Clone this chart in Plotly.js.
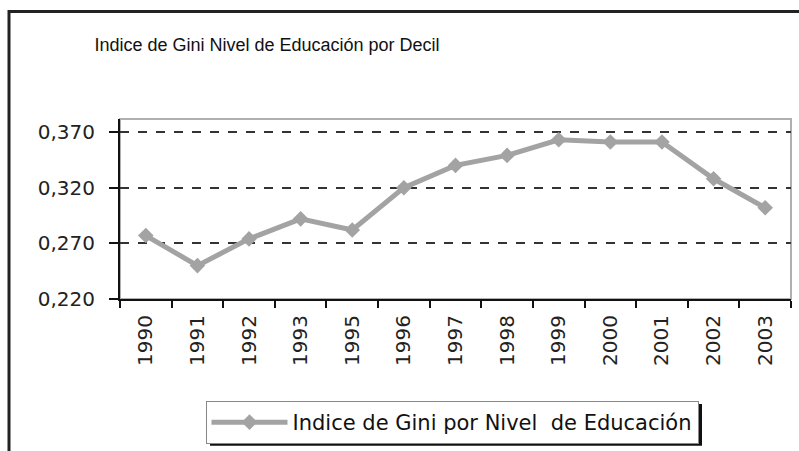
<!DOCTYPE html>
<html>
<head>
<meta charset="utf-8">
<script src="https://cdn.plot.ly/plotly-3.0.1.min.js"></script>
<style>html,body{margin:0;padding:0;background:#fff;}#chart{width:799px;height:451px;}</style>
</head>
<body>
<div id="chart"></div>
<script>
const years = ["1990","1991","1992","1993","1995","1996","1997","1998","1999","2000","2001","2002","2003"];
const gini = [0.277,0.250,0.274,0.292,0.282,0.320,0.340,0.349,0.363,0.361,0.361,0.328,0.302];
const yTicks = [0.22,0.27,0.32,0.37];
const seriesName = "Indice de Gini por Nivel  de Educación";
const chartTitle = "Indice de Gini Nivel de Educación por Decil";

const L = 120, R = 8, T = 119, B = 151, W = 799, H = 451;
const pw = W - L - R, ph = H - T - B;
const px = v => (v - L) / pw;
const py = v => (H - B - v) / ph;

const trace = {
  x: years, y: gini, type: "scatter", mode: "lines+markers", name: seriesName,
  line: {color: "#a3a3a3", width: 5},
  marker: {symbol: "diamond", size: 12, color: "#a3a3a3"}
};

const layout = {
  width: W, height: H,
  margin: {l: L, r: R, t: T, b: B},
  paper_bgcolor: "#fff", plot_bgcolor: "#fff",
  separators: ",.",
  font: {family: "DejaVu Sans, sans-serif", color: "#222", size: 16},
  title: {text: chartTitle, font: {family: "Liberation Sans, Arial, sans-serif", size: 18, color: "#111"},
          x: 267 / W, xanchor: "center", y: 1 - 45 / H, yanchor: "middle"},
  showlegend: true,
  legend: {x: px(452), xanchor: "center", y: py(401), yanchor: "top", orientation: "h",
           bordercolor: "#888", borderwidth: 1, bgcolor: "#fff", itemwidth: 76,
           font: {family: "DejaVu Sans, sans-serif", size: 21, color: "#111"}},
  xaxis: {type: "category", range: [-0.5, 12.5], tickson: "boundaries", ticks: "outside",
          ticklen: 7, tickwidth: 2, tickcolor: "#111", showline: true, linecolor: "#111",
          linewidth: 2, showgrid: false, tickangle: -90, zeroline: false, ticklabelstandoff: 6,
          tickfont: {family: "DejaVu Sans, sans-serif", size: 20, color: "#222"}},
  yaxis: {range: [0.22, 0.3817], tickvals: yTicks, tickformat: ".3f", ticks: "outside",
          ticklen: 9, tickwidth: 2, tickcolor: "#111", showline: true, linecolor: "#111",
          linewidth: 2, showgrid: true, gridcolor: "#333", gridwidth: 2, griddash: "dash",
          zeroline: false, ticklabelstandoff: 10,
          tickfont: {family: "DejaVu Sans, sans-serif", size: 20, color: "#222"}},
  shapes: [
    {type: "rect", xref: "paper", yref: "paper", x0: 0, x1: 1, y0: 0, y1: 1,
     line: {color: "#b0b0b0", width: 2}, layer: "below"},
    {type: "rect", xref: "paper", yref: "paper", x0: px(9), x1: px(830), y0: py(11), y1: py(480),
     line: {color: "#222", width: 3}, layer: "below"}
  ]
};

Plotly.newPlot("chart", [trace], layout, {displayModeBar: false, staticPlot: true}).then(gd => {
  const bg = gd.querySelector(".legend .bg");
  if (!bg) return;
  const r = bg.getBoundingClientRect();
  const c = gd.getBoundingClientRect();
  const x0 = r.left - c.left, x1 = r.right - c.left, y0 = r.top - c.top, y1 = r.bottom - c.top;
  const shapes = layout.shapes.slice();
  shapes.push({type: "rect", xref: "paper", yref: "paper",
    x0: px(x0 + 4), x1: px(x1 + 4), y0: py(y1 + 4), y1: py(y0 + 4),
    fillcolor: "#111", line: {width: 0}, layer: "below"});
  Plotly.relayout(gd, {shapes: shapes});
});
</script>
</body>
</html>
